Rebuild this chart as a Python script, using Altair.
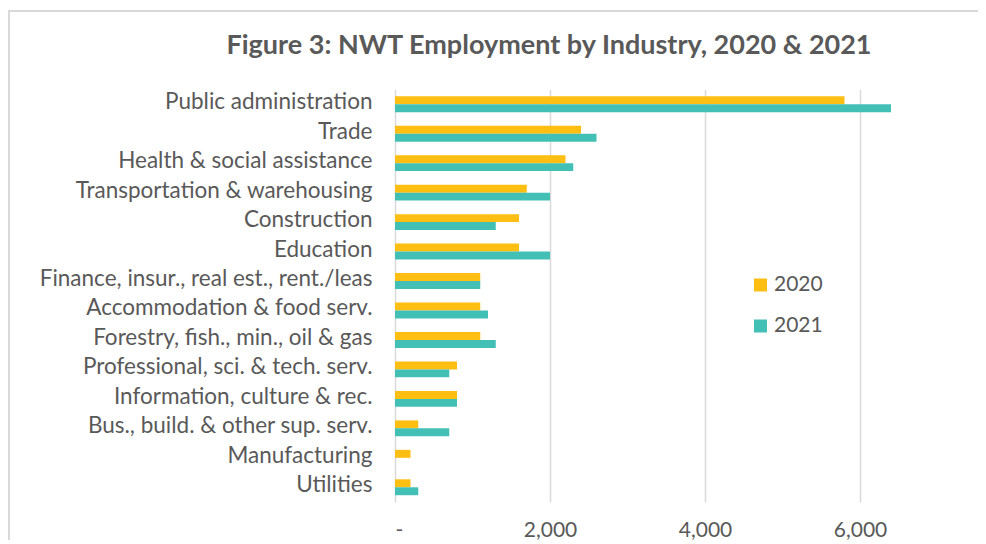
import altair as alt
import pandas as pd

industries = [
    "Public administration",
    "Trade",
    "Health & social assistance",
    "Transportation & warehousing",
    "Construction",
    "Education",
    "Finance, insur., real est., rent./leas",
    "Accommodation & food serv.",
    "Forestry, fish., min., oil & gas",
    "Professional, sci. & tech. serv.",
    "Information, culture & rec.",
    "Bus., build. & other sup. serv.",
    "Manufacturing",
    "Utilities",
]
emp_2020 = [5800, 2400, 2200, 1700, 1600, 1600, 1100, 1100, 1100, 800, 800, 300, 200, 200]
emp_2021 = [6400, 2600, 2300, 2000, 1300, 2000, 1100, 1200, 1300, 700, 800, 700, 0, 300]
years = ["2020", "2021"]
colors = ["#FFBE12", "#42C0B5"]
tick_values = [0, 2000, 4000, 6000]
title_text = ["Figure 3: NWT Employment by Industry, 2020 & 2021"]

rows = []
for i, ind in enumerate(industries):
    rows.append({"industry": ind, "year": years[0], "value": emp_2020[i]})
    rows.append({"industry": ind, "year": years[1], "value": emp_2021[i]})
df = pd.DataFrame(rows)

FONT = "Lato"
GREY = "#595959"

bars = alt.Chart(df).mark_bar().encode(
    y=alt.Y(
        "industry:N",
        sort=industries,
        scale=alt.Scale(paddingInner=0.46, paddingOuter=0.23),
        axis=alt.Axis(
            title=None, ticks=False, domain=False, labelPadding=23,
            labelFontSize=22.5, labelColor=GREY, labelFont=FONT, labelLimit=400,
            labelOffset=-2,
        ),
    ),
    yOffset=alt.YOffset("year:N", sort=years),
    x=alt.X(
        "value:Q",
        scale=alt.Scale(domain=[0, 7000], nice=False),
        axis=alt.Axis(
            values=tick_values, title=None, ticks=False, domain=False, grid=True,
            gridColor="#D9D9D9", gridWidth=1.5,
            labelExpr="datum.value == 0 ? '-' : format(datum.value, ',')",
            labelPadding=17, labelFontSize=21, labelColor=GREY, labelFont=FONT,
        ),
    ),
    color=alt.Color(
        "year:N",
        scale=alt.Scale(domain=years, range=colors),
        legend=alt.Legend(
            title=None, orient="none", legendX=355, legendY=185,
            symbolType="square", symbolSize=169, symbolStrokeWidth=0,
            labelFontSize=21, labelFont=FONT, labelColor=GREY,
            rowPadding=19, labelOffset=3,
        ),
    ),
)

border = alt.Chart(df).mark_rect(fill=None, stroke="#D9D9D9", strokeWidth=1.5).encode(
    x=alt.value(-386), x2=alt.value(700), y=alt.value(-78.5), y2=alt.value(600)
)

title = alt.Chart(pd.DataFrame({"t": title_text})).mark_text(
    font=FONT, fontSize=27, fontWeight="bold", color=GREY,
    align="center", baseline="alphabetic",
).encode(text="t:N", x=alt.value(154), y=alt.value(-36))

chart = alt.layer(border, bars, title).properties(
    width=542.5,
    height=412.5,
    autosize=alt.AutoSizeParams(type="none"),
    padding={"left": 387, "top": 81.5, "right": 40.5, "bottom": 38},
).configure_view(stroke=None)

chart.save("out.html", embed_options={"renderer": "svg", "actions": False})
